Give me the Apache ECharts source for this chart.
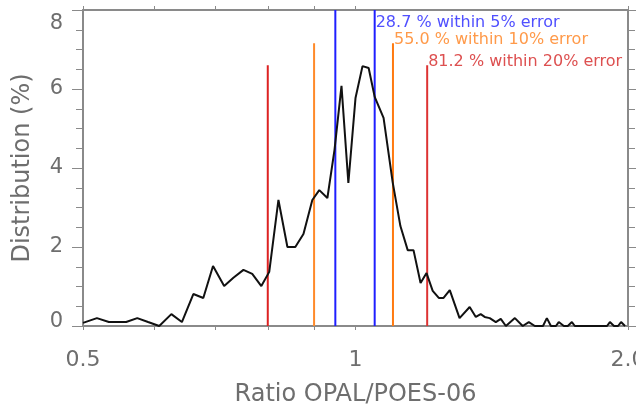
<!DOCTYPE html>
<html>
<head>
<meta charset="utf-8">
<script src="https://cdn.jsdelivr.net/npm/echarts@6/dist/echarts.min.js"></script>
<style>
html,body{margin:0;padding:0;background:#fff;}
#c{width:636px;height:410px;}
</style>
</head>
<body>
<div id="c"></div>
<script>
// Histogram: ratio OPAL/POES-06 (log x) vs distribution (%)
const ratio = [0.500,0.518,0.534,0.558,0.574,0.590,0.607,0.626,0.643,0.662,0.679,0.696,0.716,0.733,0.752,0.769,0.787,0.803,0.822,0.841,0.858,0.876,0.896,0.912,0.931,0.948,0.965,0.982,1.000,1.018,1.034,1.050,1.074,1.099,1.121,1.142,1.159,1.180,1.198,1.217,1.236,1.251,1.271,1.303,1.337,1.358,1.375,1.389,1.407,1.429,1.447,1.466,1.500,1.530,1.554,1.578,1.611,1.627,1.644,1.665,1.677,1.699,1.716,1.734,1.747,1.896,1.910,1.930,1.950,1.965,1.985];
const dist  = [0.08,0.20,0.10,0.10,0.20,0.10,0.00,0.30,0.10,0.81,0.71,1.52,1.01,1.22,1.42,1.32,1.01,1.37,3.19,2.00,2.00,2.33,3.19,3.44,3.24,4.46,6.08,3.62,5.77,6.58,6.53,5.80,5.27,3.65,2.53,1.92,1.92,1.09,1.34,0.89,0.71,0.71,0.91,0.20,0.48,0.23,0.30,0.23,0.20,0.10,0.18,0.00,0.20,0.00,0.10,0.00,0.00,0.20,0.00,0.00,0.10,0.00,0.00,0.10,0.00,0.00,0.10,0.00,0.00,0.10,0.00];

// error-band marker lines
const redX = [0.8, 1.2];     const redTop = 6.6;
const orangeX = [0.9, 1.1];  const orangeTop = 7.16;
const blueX = [0.95, 1.05];  const blueTop = 8;
const annotations = ['28.7 % within 5% error', '55.0 % within 10% error', '81.2 % within 20% error'];

const xTicks = [0.5, 0.6, 0.7, 0.8, 0.9, 1, 2];
const xLabels = [0.5, 1, 2];

const axisGray = '#8a8a8a';
const labelGray = '#6e6e6e';
const FONT = 'DejaVu Sans';

const chart = echarts.init(document.getElementById('c'), null, {renderer: 'canvas'});

function vline(x, top, color) {
  return {
    type: 'line', data: [[x, 0], [x, top]], symbol: 'none', silent: true,
    lineStyle: {color: color, width: 2}, z: 3, animation: false
  };
}

const xAxisBase = {
  type: 'log', logBase: 2, min: 0.5, max: 2,
  axisLine: {onZero: false, lineStyle: {color: axisGray, width: 2}},
  axisTick: {customValues: xTicks, length: 4, inside: false, lineStyle: {color: axisGray, width: 1}},
  splitLine: {show: false}
};

const yAxisBase = {
  type: 'value', min: 0, max: 8, interval: 2,
  axisLine: {show: true, onZero: false, lineStyle: {color: axisGray, width: 2}},
  axisTick: {show: true, length: 11, inside: false, lineStyle: {color: axisGray}},
  minorTick: {show: true, splitNumber: 4, length: 7, lineStyle: {color: axisGray}},
  splitLine: {show: false}
};

const yLabelStyle = {fontFamily: FONT, fontSize: 21, color: labelGray};

const series = [
  vline(redX[0], redTop, '#dd2222'), vline(redX[1], redTop, '#dd3333'),
  vline(orangeX[0], orangeTop, '#ff8a2a'), vline(orangeX[1], orangeTop, '#ff7a10'),
  vline(blueX[0], blueTop, '#1f1fff'), vline(blueX[1], blueTop, '#1f1fff'),
  {
    type: 'line', data: ratio.map((r, i) => [r, dist[i]]), symbol: 'none',
    lineStyle: {color: '#111', width: 2}, z: 4, animation: false
  }
];

chart.setOption({
  animation: false,
  backgroundColor: '#fff',
  grid: {left: 83, right: 8, top: 10, bottom: 84, containLabel: false, outerBoundsMode: 'none'},
  xAxis: [
    Object.assign({}, xAxisBase, {
      position: 'bottom',
      name: 'Ratio OPAL/POES-06', nameLocation: 'middle', nameGap: 57,
      nameTextStyle: {fontFamily: FONT, fontSize: 24, color: labelGray},
      axisLabel: {customValues: xLabels, fontFamily: FONT, fontSize: 22, color: labelGray, margin: 23,
        formatter: v => (Math.abs(v - 2) < 1e-6 ? '2.0' : String(+v.toFixed(3)))}
    }),
    Object.assign({}, xAxisBase, {position: 'top', axisLabel: {show: false}})
  ],
  yAxis: [
    Object.assign({}, yAxisBase, {
      position: 'left',
      name: 'Distribution (%)', nameLocation: 'middle', nameGap: 48,
      nameTextStyle: {fontFamily: FONT, fontSize: 24, color: labelGray},
      axisLabel: Object.assign({}, yLabelStyle, {
        margin: 20,
        formatter: v => (v === 8 ? '{top|8}' : v === 0 ? '{bot|0}' : String(v)),
        rich: {
          top: Object.assign({}, yLabelStyle, {padding: [28, 0, 0, 0]}),
          bot: Object.assign({}, yLabelStyle, {padding: [0, 0, 8, 0]})
        }
      })
    }),
    Object.assign({}, yAxisBase, {position: 'right', axisLabel: {show: false}})
  ],
  series: series
});

// annotations anchored to the marker lines via the chart's own scales
const anchors = [
  {x: blueX[1], y: 7.67, color: '#5050ff'},
  {x: orangeX[1], y: 7.24, color: '#ff9a4a'},
  {x: redX[1], y: 6.7, color: '#dd5050'}
];
const graphics = anchors.map((a, i) => {
  const p = chart.convertToPixel({xAxisIndex: 0, yAxisIndex: 0}, [a.x, a.y]);
  return {
    type: 'text', x: p[0] + 1, y: p[1], z: 10,
    style: {text: annotations[i], fill: a.color, font: '16px "' + FONT + '"', textAlign: 'left', textVerticalAlign: 'middle'}
  };
});
chart.setOption({graphic: graphics});
</script>
</body>
</html>
